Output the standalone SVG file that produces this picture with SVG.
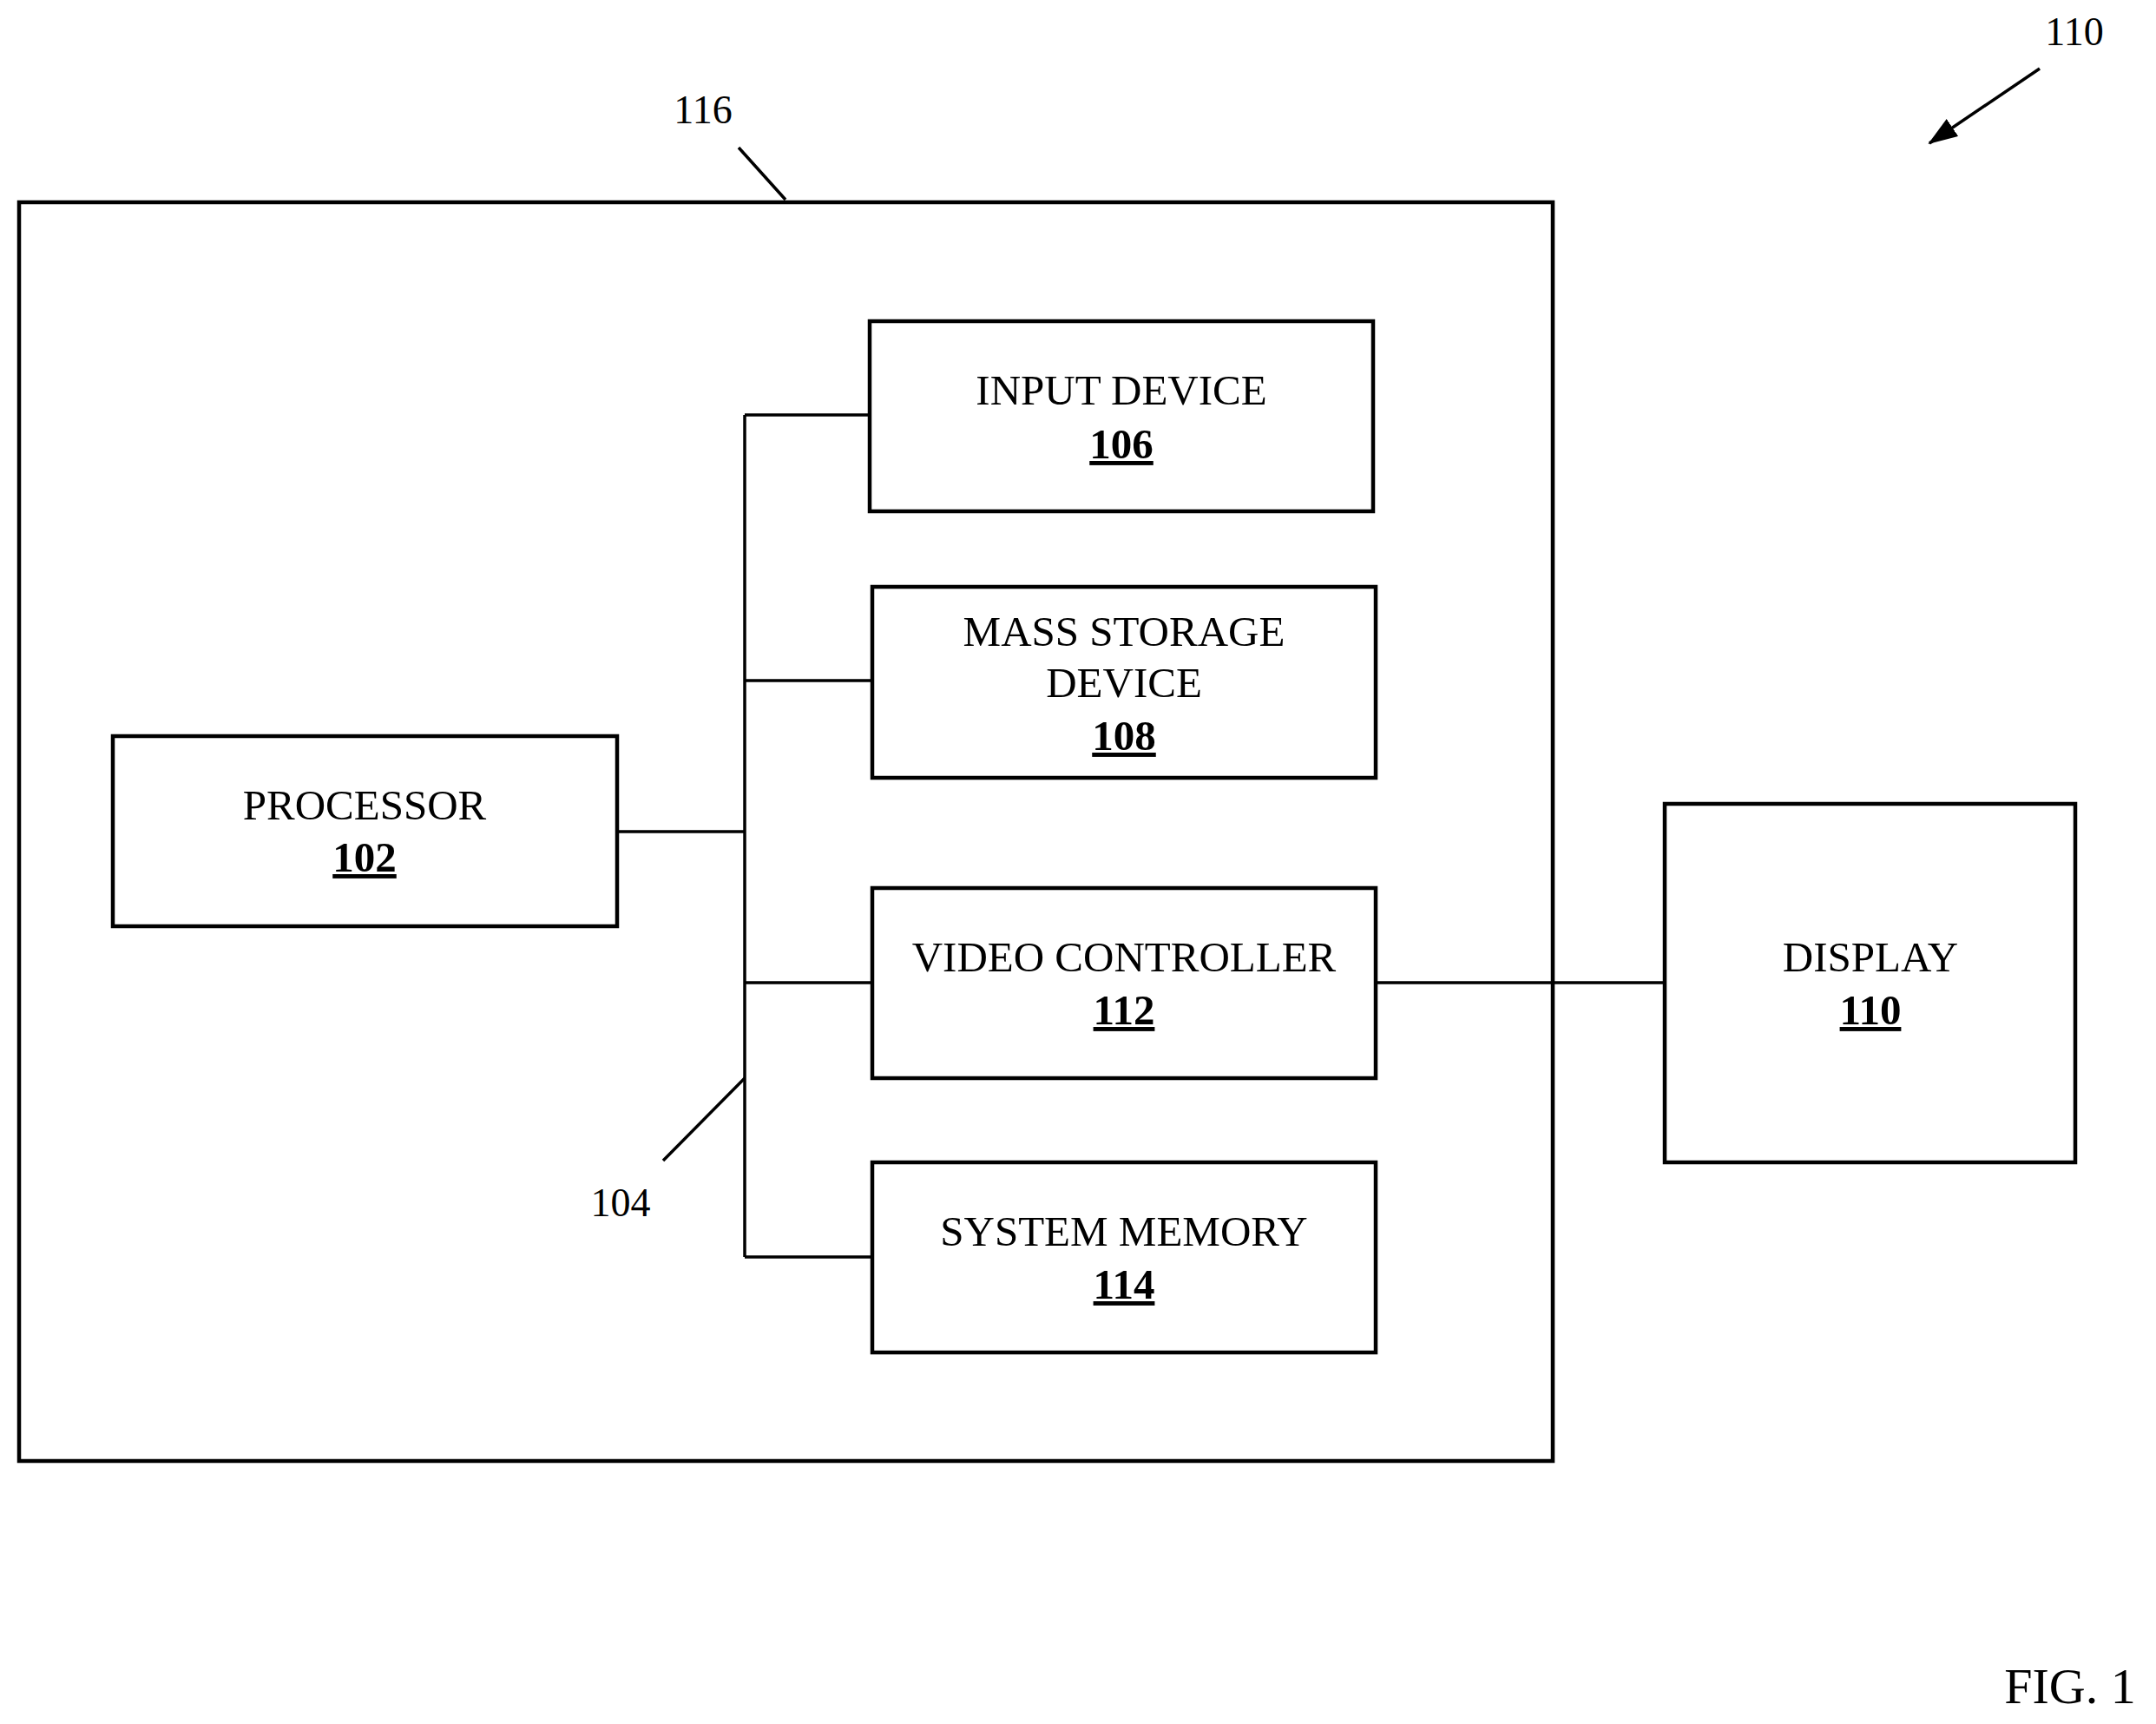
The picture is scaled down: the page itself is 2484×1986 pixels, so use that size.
<svg xmlns="http://www.w3.org/2000/svg" width="2484" height="1986" viewBox="0 0 2484 1986">
<style>
.b{fill:none;stroke:#000;stroke-width:4.5}
.l{fill:none;stroke:#000;stroke-width:3.5}
text{font-family:"Liberation Serif","Times New Roman",serif;font-size:49px;text-anchor:middle;fill:#000}
.n{font-weight:bold;text-decoration:underline}
.r{font-size:46px}
</style>
<defs><marker id="a2" markerWidth="34" markerHeight="24" refX="32" refY="12" orient="auto" markerUnits="userSpaceOnUse"><path d="M0,0 L34,12 L0,24 z"/></marker></defs>
<g id="outer"><rect class="b" x="22" y="233" width="1767" height="1450"/></g>
<g id="connectors">
<path class="l" d="M858,478 V1448 M858,478 H1002 M858,784 H1005 M711,958 H858 M858,1132 H1005 M858,1448 H1005 M1585,1132 H1918"/>
<path class="l" d="M851,170 L905,230 M764,1337 L858,1242"/>
<path class="l" d="M2350,79 L2223,165" marker-end="url(#a2)"/>
</g>
<g id="n102"><rect class="b" x="130" y="848" width="581" height="219"/><text x="420" y="944">PROCESSOR</text><text class="n" x="420" y="1004">102</text></g>
<g id="n106"><rect class="b" x="1002" y="370" width="580" height="219"/><text x="1292" y="466">INPUT DEVICE</text><text class="n" x="1292" y="528">106</text></g>
<g id="n108"><rect class="b" x="1005" y="676" width="580" height="220"/><text x="1295" y="744">MASS STORAGE</text><text x="1295" y="803">DEVICE</text><text class="n" x="1295" y="864">108</text></g>
<g id="n112"><rect class="b" x="1005" y="1023" width="580" height="219"/><text x="1295" y="1119">VIDEO CONTROLLER</text><text class="n" x="1295" y="1180">112</text></g>
<g id="n114"><rect class="b" x="1005" y="1339" width="580" height="219"/><text x="1295" y="1435">SYSTEM MEMORY</text><text class="n" x="1295" y="1496">114</text></g>
<g id="n110"><rect class="b" x="1918" y="926" width="473" height="413"/><text x="2155" y="1119">DISPLAY</text><text class="n" x="2155" y="1180">110</text></g>
<g id="labels">
<text class="r" x="810" y="142">116</text>
<text class="r" x="2390" y="52">110</text>
<text class="r" x="715" y="1401">104</text>
<text x="2385" y="1962" style="font-size:58px">FIG. 1</text>
</g>
</svg>
